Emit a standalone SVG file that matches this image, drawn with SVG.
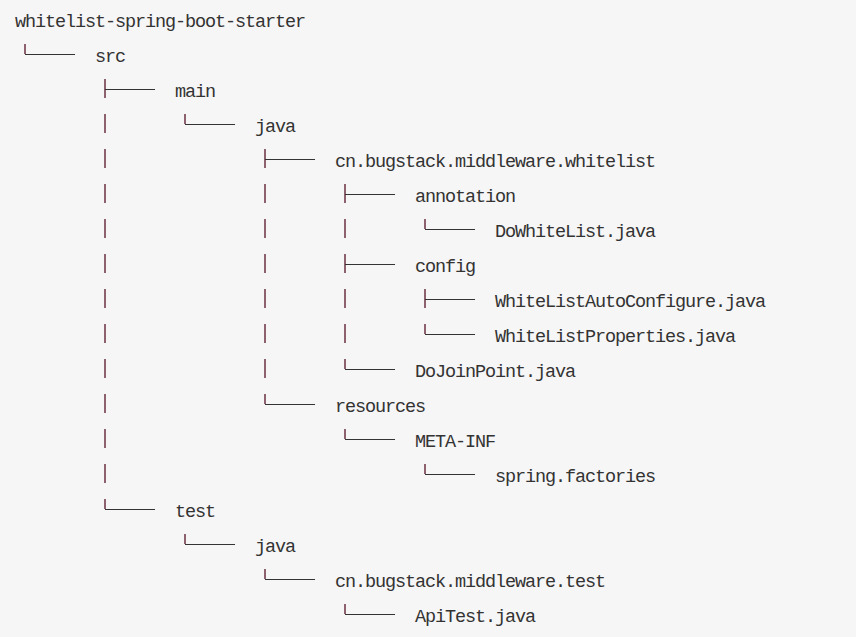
<svg xmlns="http://www.w3.org/2000/svg" width="856" height="637" viewBox="0 0 856 637">
<style>
.t{font-family:"Liberation Mono","DejaVu Sans Mono",monospace;font-size:18.5px;letter-spacing:-1.1px;fill:#333}
.v{stroke:#6b3040;stroke-width:1.5;fill:none}
.h{stroke:#333;stroke-width:1;fill:none}
</style>
<rect width="856" height="637" fill="#f6f6f6"/>
<g id="connectors">
<!-- elbows/tees: vertical part -->
<path class="v" d="M25,44V54 M105,79V98 M185,114V124 M265,149V168 M345,184V203 M425,219V229 M345,254V273 M425,289V308 M425,324V334 M345,359V369 M265,394V404 M345,429V439 M425,464V474 M105,499V509 M185,534V544 M265,569V579 M345,604V614"/>
<!-- horizontals -->
<path class="h" d="M25,54.5H75 M105,89.5H155 M185,124.5H235 M265,159.5H315 M345,194.5H395 M425,229.5H475 M345,264.5H395 M425,299.5H475 M425,334.5H475 M345,369.5H395 M265,404.5H315 M345,439.5H395 M425,474.5H475 M105,509.5H155 M185,544.5H235 M265,579.5H315 M345,614.5H395"/>
<!-- continuation bars -->
<path class="v" d="M105,114V133 M105,149V168 M105,184V203 M105,219V238 M105,254V273 M105,289V308 M105,324V343 M105,359V378 M105,394V413 M105,429V448 M105,464V483 M265,184V203 M265,219V238 M265,254V273 M265,289V308 M265,324V343 M265,359V378 M345,219V238 M345,289V308 M345,324V343"/>
</g>
<g id="root"><text class="t" x="15" y="26.5">whitelist-spring-boot-starter</text></g>
<g id="src"><text class="t" x="95" y="61.5">src</text></g>
<g id="main"><text class="t" x="175" y="96.5">main</text></g>
<g id="main-java"><text class="t" x="255" y="131.5">java</text></g>
<g id="pkg-whitelist"><text class="t" x="335" y="166.5">cn.bugstack.middleware.whitelist</text></g>
<g id="annotation"><text class="t" x="415" y="201.5">annotation</text></g>
<g id="DoWhiteList"><text class="t" x="495" y="236.5">DoWhiteList.java</text></g>
<g id="config"><text class="t" x="415" y="271.5">config</text></g>
<g id="WhiteListAutoConfigure"><text class="t" x="495" y="306.5">WhiteListAutoConfigure.java</text></g>
<g id="WhiteListProperties"><text class="t" x="495" y="341.5">WhiteListProperties.java</text></g>
<g id="DoJoinPoint"><text class="t" x="415" y="376.5">DoJoinPoint.java</text></g>
<g id="resources"><text class="t" x="335" y="411.5">resources</text></g>
<g id="META-INF"><text class="t" x="415" y="446.5">META-INF</text></g>
<g id="spring-factories"><text class="t" x="495" y="481.5">spring.factories</text></g>
<g id="test"><text class="t" x="175" y="516.5">test</text></g>
<g id="test-java"><text class="t" x="255" y="551.5">java</text></g>
<g id="pkg-test"><text class="t" x="335" y="586.5">cn.bugstack.middleware.test</text></g>
<g id="ApiTest"><text class="t" x="415" y="621.5">ApiTest.java</text></g>
</svg>
